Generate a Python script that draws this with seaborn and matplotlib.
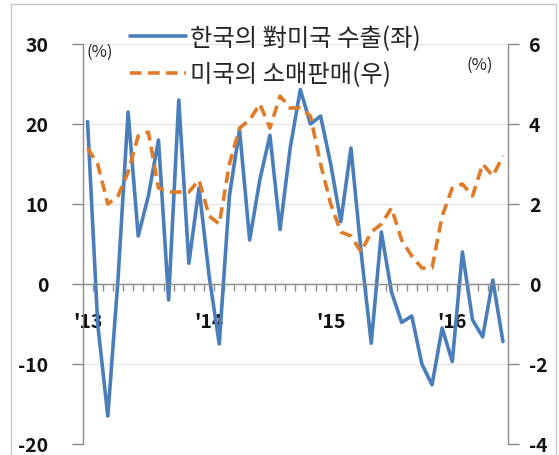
import numpy as np
import pandas as pd
import matplotlib
matplotlib.use("Agg")
import matplotlib.pyplot as plt
import seaborn as sns
from matplotlib.patches import Rectangle
from matplotlib.ticker import FixedLocator

# monthly, Jan 2013 .. Jun 2016
months = list(range(42))
exports = [20.3, -5.0, -16.5, 0.5, 21.5, 6.0, 11.0, 18.0, -2.0, 23.0,
           2.6, 12.0, 1.0, -7.5, 11.0, 19.3, 5.5, 13.0, 18.6, 6.8,
           17.0, 24.3, 20.0, 21.0, 15.0, 7.8, 17.0, 4.0, -7.4, 6.5,
           -1.0, -4.8, -4.0, -10.0, -12.6, -5.5, -9.7, 4.0, -4.5, -6.6,
           0.5, -7.2]
retail = [3.4, 3.0, 2.0, 2.2, 2.8, 3.7, 3.8, 2.4, 2.3, 2.3,
          2.3, 2.6, 1.7, 1.5, 3.0, 3.9, 4.1, 4.5, 3.9, 4.7,
          4.4, 4.4, 4.2, 3.0, 2.0, 1.3, 1.2, 0.8, 1.3, 1.5,
          1.9, 1.1, 0.7, 0.4, 0.4, 1.7, 2.4, 2.5, 2.2, 3.0,
          2.7, 3.2]
year_pos = [0, 12, 24, 36]
year_labels = ["'13", "'14", "'15", "'16"]
left_ticks = [-20, -10, 0, 10, 20, 30]
right_ticks = [-4, -2, 0, 2, 4, 6]
label_exp = "한국의 對미국 수출(좌)"
label_ret = "미국의 소매판매(우)"

blue = "#4a7ebb"
orange = "#e07b28"
grey = "#8c8c8c"

df = pd.DataFrame({"month": months, "exports": exports, "retail": retail})

sns.set_theme(style="ticks")
plt.rcParams['font.family'] = ['Noto Sans CJK KR', 'DejaVu Sans']

fig = plt.figure(figsize=(5.59, 4.56), dpi=100)
ax = fig.add_axes([83/559, 1-445/456, 425/559, 400/456])

sns.lineplot(data=df, x="month", y="exports", ax=ax, color=blue, lw=2.6, label=label_exp)
ax2 = ax.twinx()
sns.lineplot(data=df, x="month", y="retail", ax=ax2, color=orange, lw=2.6, label=label_ret)
ax2.lines[0].set_linestyle((0, (3.2, 1.8)))

h1, l1 = ax.get_legend_handles_labels()
h2, l2 = ax2.get_legend_handles_labels()
ax.get_legend().remove()
ax2.get_legend().remove()

ax.set_xlim(-0.45, 41.5)
ax.set_ylim(-20, 30)
ax2.set_ylim(-4, 6)
ax.set_xlabel("")
ax.set_ylabel("")
ax2.set_ylabel("")

# spines
ax.spines['top'].set_visible(False)
ax.spines['right'].set_visible(False)
ax.spines['bottom'].set_position(('data', 0))
for s in ['left', 'bottom']:
    ax.spines[s].set_color(grey)
    ax.spines[s].set_linewidth(1)
for s in ['top', 'bottom', 'left']:
    ax2.spines[s].set_visible(False)
ax2.spines['right'].set_color(grey)
ax2.spines['right'].set_linewidth(1)

# y ticks
ax.set_yticks(left_ticks)
ax.set_yticklabels([str(t) for t in left_ticks], fontweight='bold')
ax.tick_params(axis='y', length=8, width=1, color=grey, pad=17, labelsize=14, labelcolor='#111111')
ax2.set_yticks(right_ticks)
ax2.set_yticklabels([str(t) for t in right_ticks], fontweight='bold')
ax2.tick_params(axis='y', length=8, width=1, color=grey, pad=7, labelsize=14, labelcolor='#111111')

# x ticks on the zero line
ax.set_xticks(year_pos)
ax.set_xticklabels(year_labels, fontweight='bold')
ax.xaxis.set_minor_locator(FixedLocator(np.arange(0.5, 41, 1)))
ax.tick_params(axis='x', which='major', length=0, pad=20, labelsize=14, labelcolor='#111111')
ax.tick_params(axis='x', which='minor', length=5, width=1, color=grey, direction='out')

ax.yaxis.grid(True, color='#e6e6e6', lw=1)
ax.set_axisbelow(True)

fig.text(87/559, 1-52/456, "(%)", fontsize=12, va='center', color='#222222')
fig.text(466/559, 1-65/456, "(%)", fontsize=12, va='center', color='#222222')

fig.legend(h1 + h2, l1 + l2, loc='upper left', bbox_to_anchor=(130/559, 1-26/456),
           bbox_transform=fig.transFigure, frameon=False,
           prop={'size': 17.5, 'weight': 'medium'},
           handlelength=2.3, handletextpad=0.15, labelspacing=0.42,
           borderpad=0, borderaxespad=0)

fig.add_artist(Rectangle((11/559, -0.02), (556-11)/559, 1-5/456+0.02,
                         transform=fig.transFigure, fill=False,
                         edgecolor='#c8c8c8', lw=1))

fig.savefig("out.png", dpi=100)
